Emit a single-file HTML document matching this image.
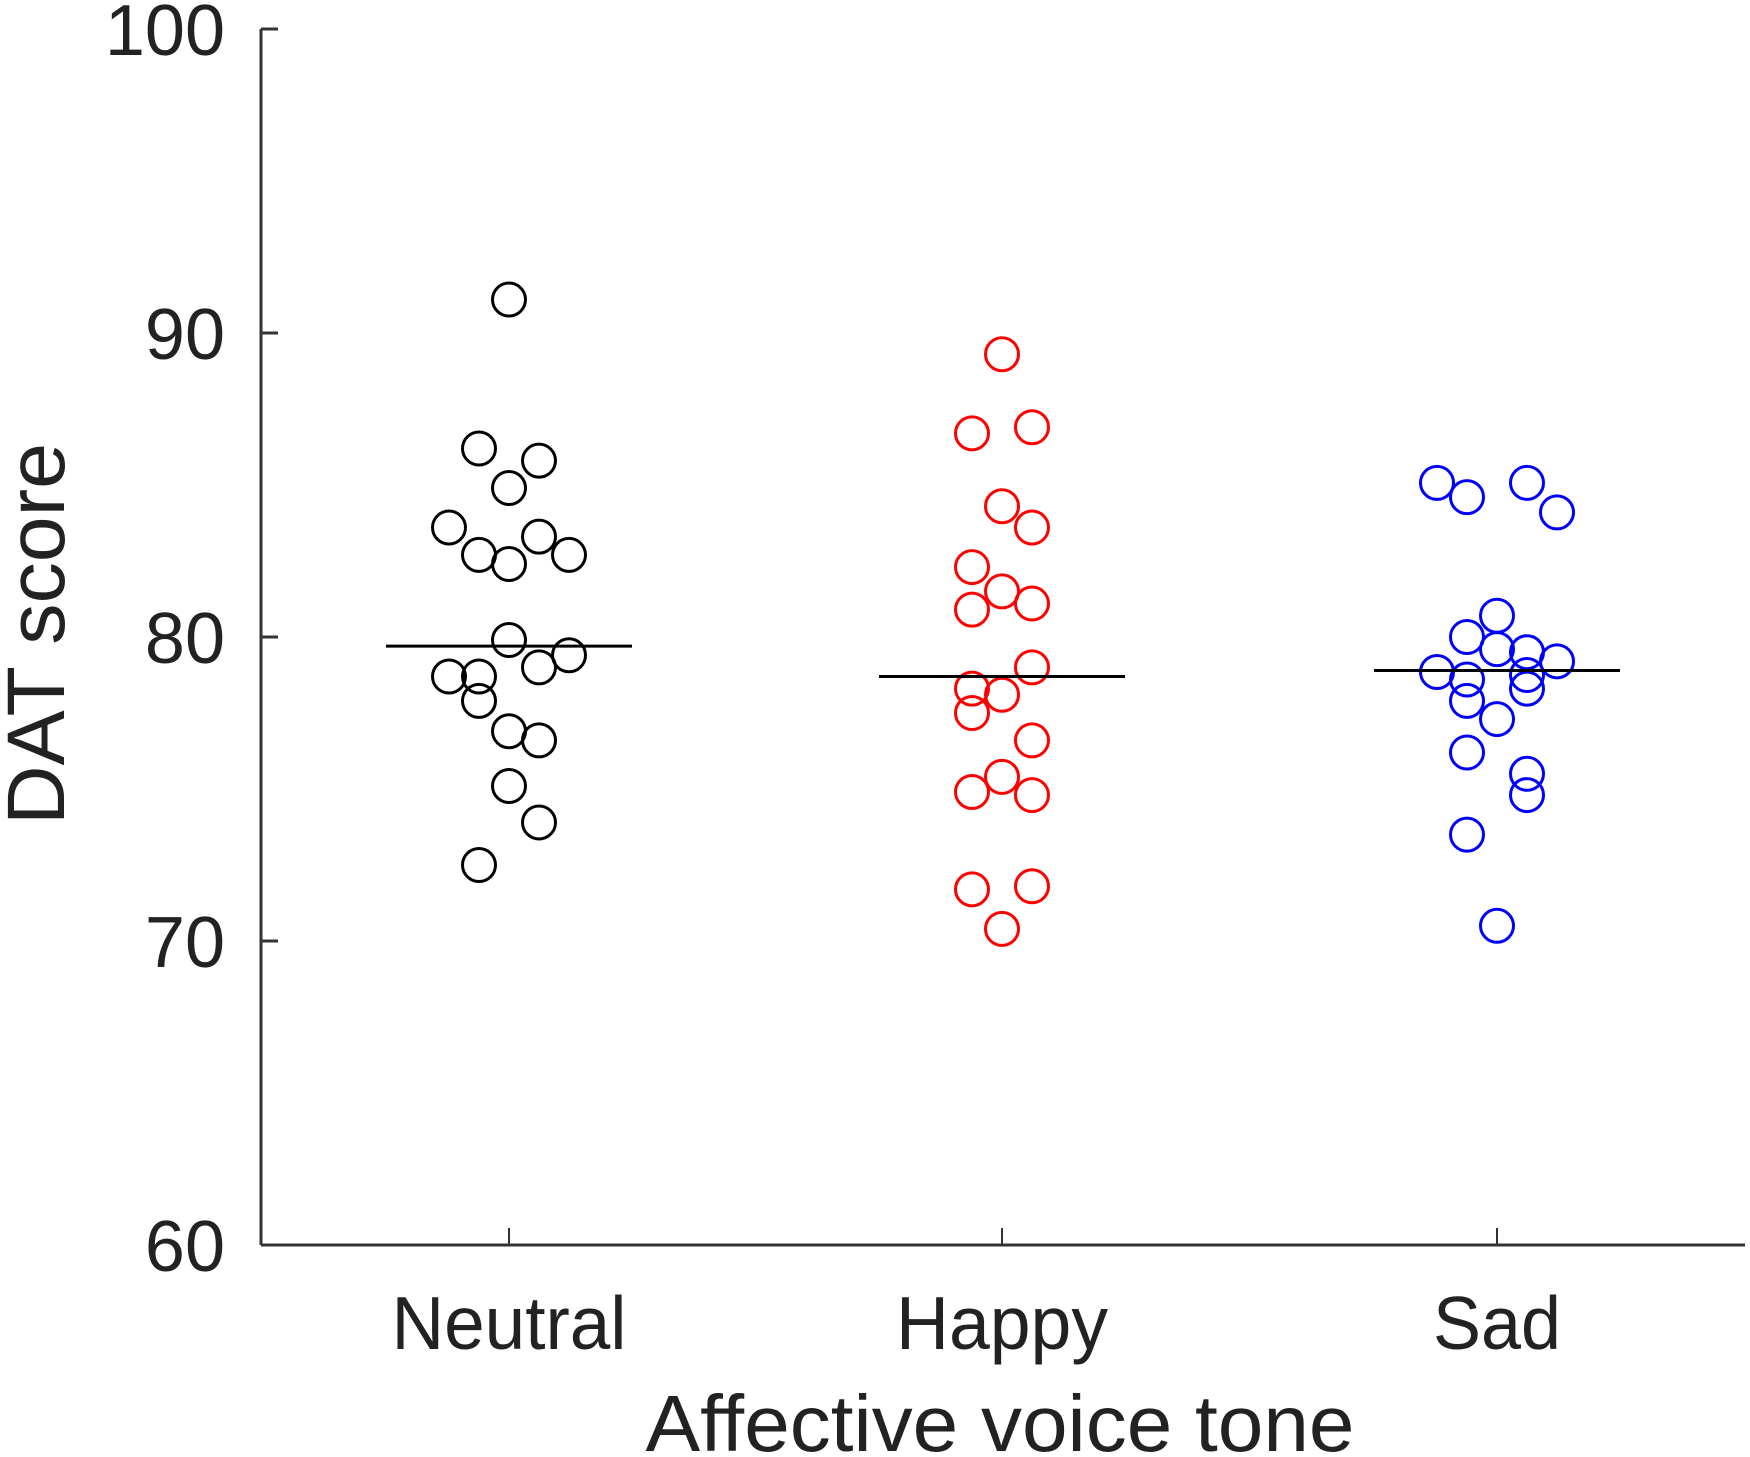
<!DOCTYPE html>
<html><head><meta charset="utf-8"><style>
html,body{margin:0;padding:0;background:#fff;}
svg{display:block;font-family:"Liberation Sans",Arial,sans-serif;}
</style></head><body>
<svg id="chart" width="1750" height="1457" viewBox="0 0 1750 1457">
<g id="axes"></g>
<g id="marks"></g>
<text x="1000" y="1451" font-size="80" text-anchor="middle" textLength="709" lengthAdjust="spacingAndGlyphs" fill="#222">Affective voice tone</text>
<text transform="translate(64,634) rotate(-90)" font-size="82" text-anchor="middle" textLength="382" lengthAdjust="spacingAndGlyphs" fill="#222">DAT score</text>
</svg>
<script>
const categories = ["Neutral", "Happy", "Sad"];
const colors = ["#000000", "#ff0000", "#0000ff"];
const yTicks = [60, 70, 80, 90, 100];
const neutralValues = [83.6,78.7, 86.2,82.7,78.7,77.9,72.5, 91.1,84.9,82.4,79.9,76.9,75.1, 85.8,83.3,79.0,76.6,73.9, 82.7,79.4];
const neutralSlots  = [-2,-2, -1,-1,-1,-1,-1, 0,0,0,0,0,0, 1,1,1,1,1, 2,2];
const happyValues = [86.7,82.3,80.9,78.3,77.5,74.9,71.7, 89.3,84.3,81.5,78.1,75.4,70.4, 86.9,83.6,81.1,79.0,76.6,74.8,71.8];
const happySlots  = [-1,-1,-1,-1,-1,-1,-1, 0,0,0,0,0,0, 1,1,1,1,1,1,1];
const sadValues = [85.07,78.85, 84.6,80.0,78.6,77.9,76.2,73.5, 80.7,79.6,77.3,70.5, 85.07,79.5,78.75,78.3,75.5,74.8, 84.1,79.2];
const sadSlots  = [-2,-2, -1,-1,-1,-1,-1,-1, 0,0,0,0, 1,1,1,1,1,1, 2,2];
const means = [79.7, 78.7, 78.9];

const NS = "http://www.w3.org/2000/svg";
const X0 = 261, X1 = 1745, Y0 = 1245, YTOP = 29;
const catX = [509, 1002, 1497];
const slotW = 30;
function y(v){ return Y0 - (v - 60) / 40 * (Y0 - YTOP); }
function x(ci, slot){ return catX[ci] + slot * slotW; }
function mk(tag, attrs, parent){ const e = document.createElementNS(NS, tag); for (const k in attrs) e.setAttribute(k, attrs[k]); parent.appendChild(e); return e; }

const axes = document.getElementById('axes');
const marks = document.getElementById('marks');
let e;
e = mk('line', {x1:X0, y1:YTOP, x2:X0, y2:Y0, stroke:'#333', 'stroke-width':3}, axes);


e = mk('line', {x1:X0, y1:Y0, x2:X1, y2:Y0, stroke:'#333', 'stroke-width':3}, axes);


yTicks.forEach(t => {
  e = mk('line', {x1:X0, y1:y(t), x2:X0+17, y2:y(t), stroke:'#333', 'stroke-width':3}, axes);
  
  
  e = mk('text', {x:225, y:y(t)+26, 'font-size':72, 'text-anchor':'end', fill:'#222'}, axes);
  e.textContent = t;
  
  
});
const labW = [235, 212, 128];
categories.forEach((c, i) => {
  e = mk('line', {x1:catX[i], y1:Y0, x2:catX[i], y2:Y0-17, stroke:'#333', 'stroke-width':2}, axes);
  
  
  e = mk('text', {x:catX[i], y:1349, 'font-size':75, 'text-anchor':'middle', fill:'#222', textLength:labW[i], lengthAdjust:'spacingAndGlyphs'}, axes);
  e.textContent = c;
  
  
});
const series = [[neutralValues, neutralSlots], [happyValues, happySlots], [sadValues, sadSlots]];
series.forEach((s, ci) => {
  s[0].forEach((v, j) => {
    e = mk('circle', {cx:x(ci, s[1][j]), cy:y(v), r:16.5, fill:'none', stroke:colors[ci], 'stroke-width':3}, marks);
    
    
  });
  e = mk('line', {x1:catX[ci]-123, x2:catX[ci]+123, y1:y(means[ci]), y2:y(means[ci]), stroke:'#000', 'stroke-width':3}, marks);
  
  
});
</script>
</body></html>
